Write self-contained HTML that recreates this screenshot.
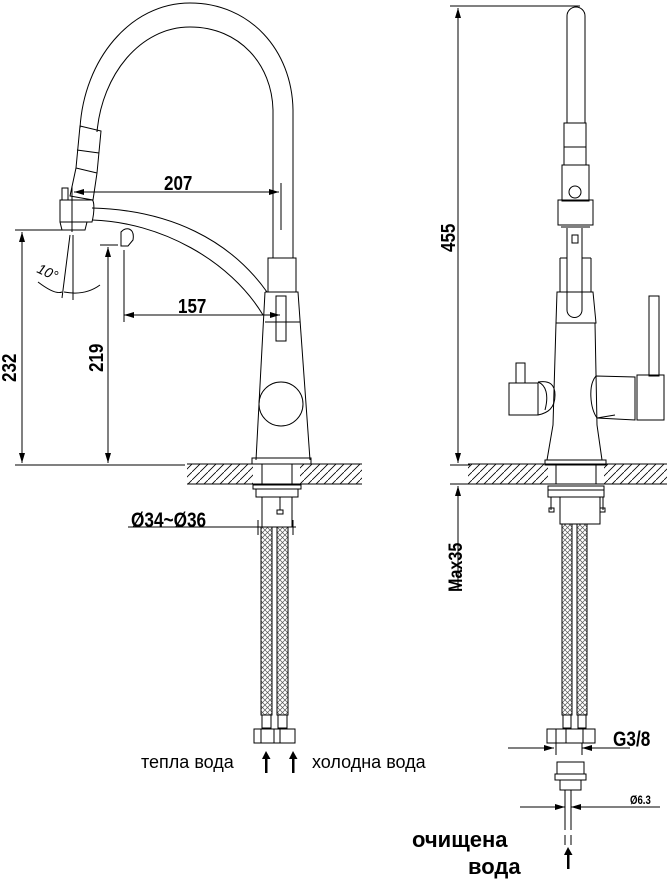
<!DOCTYPE html>
<html><head><meta charset="utf-8"><style>
html,body{margin:0;padding:0;background:#fff}
svg{display:block}
text{font-family:"Liberation Sans",Arial,sans-serif;fill:#000}
</style></head><body>
<svg width="667" height="879" viewBox="0 0 667 879" xmlns="http://www.w3.org/2000/svg">
<defs>
<pattern id="h" width="8" height="8" patternUnits="userSpaceOnUse"><path d="M0 8L8 0" stroke="#000" stroke-width="0.8"/></pattern>
<pattern id="b" width="5" height="5" patternUnits="userSpaceOnUse"><path d="M0 5L5 0M0 0L5 5" stroke="#555" stroke-width="0.7"/></pattern>
<marker id="a" viewBox="0 0 10 6" refX="10" refY="3" markerWidth="10" markerHeight="6" orient="auto-start-reverse" markerUnits="userSpaceOnUse"><path d="M0 0L10 3L0 6z" fill="#000"/></marker>
</defs>
<g fill="none" stroke="#000" stroke-width="1">
<rect x="187" y="464" width="66" height="20" fill="url(#h)" stroke="none"/>
<rect x="300" y="464" width="62" height="20" fill="url(#h)" stroke="none"/>
<rect x="468" y="464" width="80" height="20" fill="url(#h)" stroke="none"/>
<rect x="604" y="464" width="63" height="20" fill="url(#h)" stroke="none"/>
<path d="M187 464H362M187 484H362M468 464H667M468 484H667"/>
<!-- LEFT faucet -->
<path d="M80 128C84 60 130 3 190 3C250 3 292 50 293 110V258"/>
<path d="M97 132C102 75 140 27 190 27C240 27 272 65 273 110V258"/>
<path d="M80 126L101 131L97 173L76 168zM77 150L99 153M76 168L70 196L93 200L97 173"/>
<rect x="62" y="188" width="6" height="12"/>
<path d="M60 200H92C94 200 95 210 92 222H60zM60 222L62 230H85L87 222"/>
<path d="M92 208C170 210 230 240 267 292M92 220C160 222 230 260 263 315"/>
<path d="M121 232C126 226 135 228 133 240L128 246H121z"/>
<rect x="268" y="258" width="28" height="34"/>
<path d="M265 292H298L310 460M265 292L256 460"/>
<rect x="276" y="296" width="10" height="45"/>
<path d="M265 322H300"/>
<circle cx="281" cy="404" r="22"/>
<rect x="252" y="458" width="59" height="6"/>
<path d="M72 186V232M281 183V230"/>
<path d="M74 192H279" marker-start="url(#a)" marker-end="url(#a)"/>
<path d="M124 315H280" marker-start="url(#a)" marker-end="url(#a)"/>
<path d="M124 250V322"/>
<path d="M15 230H75M100 245H118M15 465H185"/>
<path d="M22 232V463" marker-start="url(#a)" marker-end="url(#a)"/>
<path d="M108 247V463" marker-start="url(#a)" marker-end="url(#a)"/>
<path d="M70 235L62 298M73 235V300"/>
<path d="M38 282Q55 295 62 292M64 292Q85 296 100 285"/>
<!-- left under counter -->
<path d="M262 464V484M292 464V484"/>
<rect x="253" y="485" width="48" height="4"/>
<rect x="256" y="489" width="42" height="8"/>
<rect x="262" y="497" width="30" height="30"/>
<path d="M280 497V510M277 510H283V514H277z"/>
<path d="M128 527H296M258 520V535M293 520V535"/>
<rect x="261" y="527" width="11" height="188" fill="url(#b)"/>
<rect x="277" y="527" width="11" height="188" fill="url(#b)"/>
<rect x="262" y="715" width="9" height="13"/><rect x="278" y="715" width="9" height="13"/>
<rect x="254" y="729" width="41" height="14"/>
<path d="M261 729V743M274 729V743M280 729V743"/>
<!-- RIGHT faucet -->
<path d="M567 123V16A9 9 0 0 1 585 16V123"/>
<rect x="564" y="123" width="22" height="42"/>
<path d="M564 147H586"/>
<rect x="562" y="165" width="27" height="36"/>
<circle cx="575" cy="192" r="6"/>
<rect x="558" y="200" width="35" height="25"/>
<path d="M561 227H590"/>
<path d="M567 228V310A7.5 7.5 0 0 0 582 310V228"/>
<rect x="572" y="235" width="6" height="8"/>
<path d="M560 258V292M591 258V292M560 258H567M582 258H591"/>
<path d="M557 292H593L596 323H556zM556 323L553 425L547 460M595 323L597 425L602 460"/>
<rect x="509" y="383" width="29" height="32"/>
<rect x="516" y="363" width="9" height="20"/>
<path d="M538 382C550 380 555 385 555 395C555 408 548 413 538 415M538 382C546 385 549 395 545 410"/>
<path d="M596 376L635 377V420L597 418C590 408 588 385 596 376zM597 418L615 415"/>
<rect x="637" y="375" width="27" height="45"/>
<rect x="649" y="296" width="10" height="80"/>
<rect x="545" y="460" width="61" height="5"/>
<path d="M450 6H580M450 465H470M450 484H470"/>
<path d="M458 8V463" marker-start="url(#a)" marker-end="url(#a)"/>
<path d="M458 486V590" marker-start="url(#a)"/>
<path d="M556 464V484M596 464V484"/>
<rect x="548" y="486" width="56" height="4"/>
<rect x="548" y="490" width="56" height="7"/>
<rect x="560" y="497" width="40" height="27"/>
<path d="M551 497V510M603 497V510"/>
<rect x="549" y="508" width="5" height="4"/><rect x="600" y="508" width="5" height="4"/>
<rect x="562" y="524" width="10" height="191" fill="url(#b)"/>
<rect x="577" y="524" width="10" height="191" fill="url(#b)"/>
<rect x="563" y="715" width="8" height="13"/><rect x="578" y="715" width="8" height="13"/>
<rect x="547" y="729" width="48" height="14"/>
<path d="M556 729V743M566 729V743M583 729V743"/>
<path d="M508 748H554M582 748H630" />
<path d="M510 748H554" marker-end="url(#a)"/>
<path d="M630 748H582" marker-end="url(#a)"/>
<path d="M556 743V755M582 743V755"/>
<rect x="557" y="762" width="27" height="12"/>
<rect x="555" y="774" width="31" height="6"/>
<rect x="560" y="780" width="21" height="10"/>
<path d="M565 790V830M571 790V830M565 835V845M571 845V835"/>
<path d="M520 807H565" marker-end="url(#a)"/>
<path d="M660 807H571" marker-end="url(#a)"/>
</g>
<g fill="#000">
<path d="M266 751l-4 8h3v14h2.5v-14h3z"/>
<path d="M293 751l-4 8h3v14h2.5v-14h3z"/>
<path d="M568 847l-4 8h3v14h2.5v-14h3z"/>
</g>
<g font-weight="bold" font-size="20">
<text transform="translate(164 190) scale(0.85 1)">207</text>
<text transform="translate(178 313) scale(0.85 1)">157</text>
<text transform="translate(16 382) rotate(-90) scale(0.85 1)">232</text>
<text transform="translate(103 372) rotate(-90) scale(0.85 1)">219</text>
<text transform="translate(455 252) rotate(-90) scale(0.85 1)">455</text>
<text transform="translate(462 592) rotate(-90) scale(0.85 1)" font-size="19">Max35</text>
<text transform="translate(131 527) scale(0.82 1)" font-size="21">Ø34~Ø36</text>
<text transform="translate(613 746) scale(0.82 1)" font-size="21">G3/8</text>
<text transform="translate(630 804) scale(0.8 1)" font-size="12">Ø6.3</text>
</g>
<text transform="translate(36 272) rotate(25)" font-size="14" font-style="italic">10°</text>
<text x="141" y="768" font-size="18">тепла вода</text>
<text x="312" y="768" font-size="18">холодна вода</text>
<text x="412" y="847" font-size="22" font-weight="bold" font-family="DejaVu Sans, sans-serif">очищена</text>
<text x="468" y="874" font-size="22" font-weight="bold" font-family="DejaVu Sans, sans-serif">вода</text>
</svg>
</body></html>
